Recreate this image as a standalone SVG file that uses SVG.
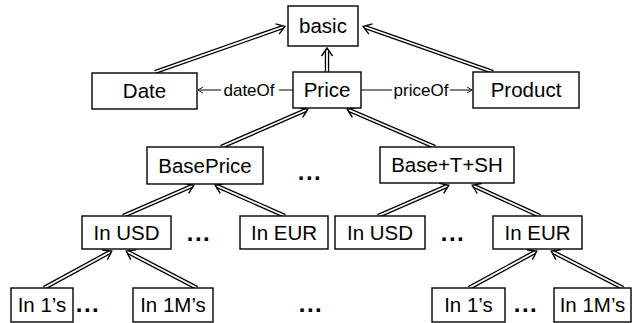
<svg xmlns="http://www.w3.org/2000/svg" width="632" height="323" viewBox="0 0 632 323">
<style>
.box{fill:#fff;stroke:#000;stroke-width:1.4}
.t{font-family:"Liberation Sans",Arial,sans-serif;font-size:20.5px;text-anchor:middle;fill:#000}
.lbl{font-family:"Liberation Sans",Arial,sans-serif;font-size:17px;text-anchor:middle;fill:#000}
.dots{font-family:"Liberation Sans",Arial,sans-serif;font-size:24px;font-weight:bold;text-anchor:middle;letter-spacing:1.5px;fill:#000}
.o{fill:none;stroke:#000;stroke-width:4.4}
.i{fill:none;stroke:#fff;stroke-width:1.8;marker-end:url(#chev)}
.s{fill:none;stroke:#000;stroke-width:1}
</style>
<defs>
<marker id="chev" markerUnits="userSpaceOnUse" markerWidth="20" markerHeight="20" viewBox="-10 -10 20 20" refX="0" refY="0" orient="auto" overflow="visible">
<path d="M-6,-5.5 L2,0 L-6,5.5" fill="none" stroke="#000" stroke-width="1.4"/>
</marker>
<marker id="sa" markerUnits="userSpaceOnUse" markerWidth="10" markerHeight="10" viewBox="-6 -5 10 10" refX="0" refY="0" orient="auto" overflow="visible">
<path d="M-5,-3 L0,0 L-5,3" fill="none" stroke="#000" stroke-width="0.9"/>
</marker>
</defs>
<g id="connectors">
<g><path class="o" d="M155,72 L283,27"/><path class="i" d="M155,72 L283,27"/></g>
<g><path class="o" d="M493,72 L365,27"/><path class="i" d="M493,72 L365,27"/></g>
<g><path class="o" d="M327,72 L327,50"/><path class="i" d="M327,72 L327,50"/></g>
<g><path class="o" d="M221,147 L306,110"/><path class="i" d="M221,147 L306,110"/></g>
<g><path class="o" d="M435,147 L349,110"/><path class="i" d="M435,147 L349,110"/></g>
<g><path class="o" d="M123,216 L192,186"/><path class="i" d="M123,216 L192,186"/></g>
<g><path class="o" d="M285,216 L217,186"/><path class="i" d="M285,216 L217,186"/></g>
<g><path class="o" d="M378,216 L447,186"/><path class="i" d="M378,216 L447,186"/></g>
<g><path class="o" d="M540,216 L474,186"/><path class="i" d="M540,216 L474,186"/></g>
<g><path class="o" d="M44,288 L110,252"/><path class="i" d="M44,288 L110,252"/></g>
<g><path class="o" d="M197,288 L128,252"/><path class="i" d="M197,288 L128,252"/></g>
<g><path class="o" d="M469,288 L535,252"/><path class="i" d="M469,288 L535,252"/></g>
<g><path class="o" d="M623,288 L553,252"/><path class="i" d="M623,288 L553,252"/></g>
<g><path class="s" d="M293,90 L279,90"/><path class="s" d="M221,90 L198,90" marker-end="url(#sa)"/><text class="lbl" x="249" y="96">dateOf</text></g>
<g><path class="s" d="M361,90 L392,90"/><path class="s" d="M450,90 L472,90" marker-end="url(#sa)"/><text class="lbl" x="421" y="96">priceOf</text></g>
</g>
<g id="basic"><rect class="box" x="288" y="6" width="70" height="40"/><text class="t" x="323" y="33">basic</text></g>
<g id="date"><rect class="box" x="92" y="73" width="105" height="36"/><text class="t" x="144.5" y="98">Date</text></g>
<g id="price"><rect class="box" x="293" y="72" width="68" height="36"/><text class="t" x="327" y="97">Price</text></g>
<g id="product"><rect class="box" x="473" y="72" width="106" height="36"/><text class="t" x="526" y="97">Product</text></g>
<g id="baseprice"><rect class="box" x="147" y="147" width="116" height="37"/><text class="t" x="205" y="173">BasePrice</text></g>
<g id="dots1"><text class="dots" x="310" y="180">...</text></g>
<g id="basetsh"><rect class="box" x="380" y="147" width="134" height="36"/><text class="t" x="447" y="172">Base+T+SH</text></g>
<g id="inusd1"><rect class="box" x="82" y="216" width="89" height="33"/><text class="t" x="126.5" y="240">In USD</text></g>
<g id="dots2"><text class="dots" x="199" y="241">...</text></g>
<g id="ineur1"><rect class="box" x="240" y="216" width="88" height="33"/><text class="t" x="284" y="240">In EUR</text></g>
<g id="inusd2"><rect class="box" x="335" y="216" width="90" height="33"/><text class="t" x="380" y="240">In USD</text></g>
<g id="dots3"><text class="dots" x="453" y="241">...</text></g>
<g id="ineur2"><rect class="box" x="493" y="216" width="89" height="33"/><text class="t" x="537.5" y="240">In EUR</text></g>
<g id="in1s1"><rect class="box" x="11" y="288" width="62" height="34"/><text class="t" x="42" y="312">In 1’s</text></g>
<g id="dots4"><text class="dots" x="88" y="312">...</text></g>
<g id="in1ms1"><rect class="box" x="133" y="288" width="80" height="34"/><text class="t" x="173" y="312">In 1M’s</text></g>
<g id="dots5"><text class="dots" x="311" y="312">...</text></g>
<g id="in1s2"><rect class="box" x="432" y="288" width="73" height="34"/><text class="t" x="468.5" y="312">In 1’s</text></g>
<g id="dots6"><text class="dots" x="526" y="312">...</text></g>
<g id="in1ms2"><rect class="box" x="554" y="288" width="77" height="34"/><text class="t" x="592.5" y="312">In 1M’s</text></g>
</svg>
